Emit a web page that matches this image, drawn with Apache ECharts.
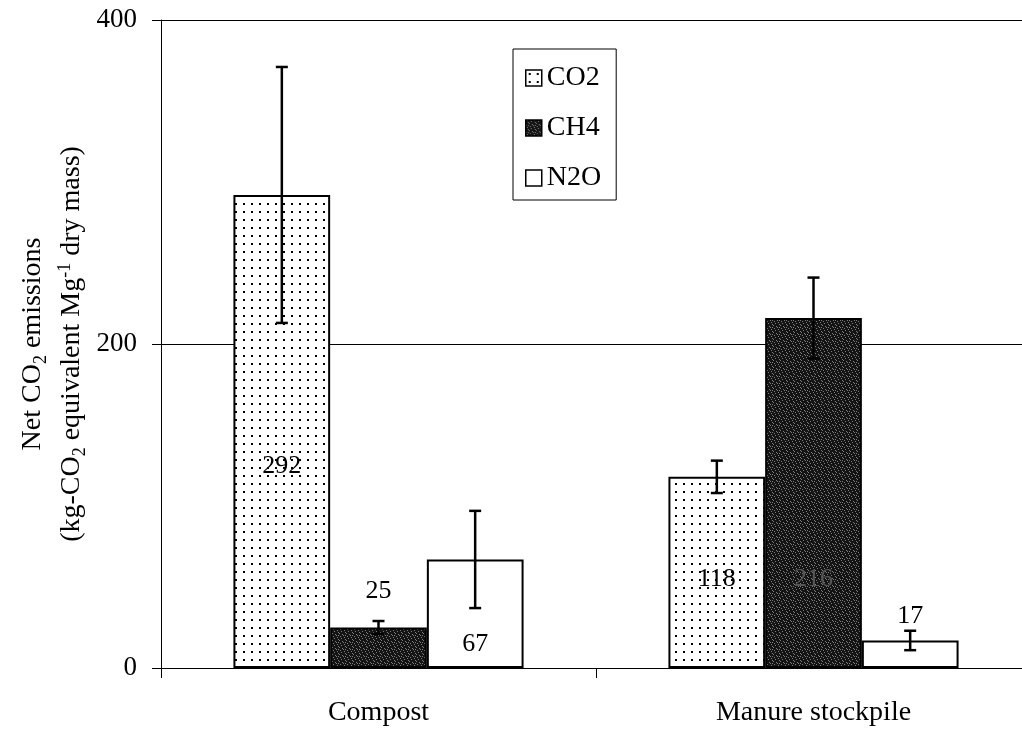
<!DOCTYPE html>
<html>
<head>
<meta charset="utf-8">
<script src="https://cdn.jsdelivr.net/npm/echarts@6/dist/echarts.min.js"></script>
<style>
html,body{margin:0;padding:0;background:#fff;}
#chart{width:1022px;height:731px;}
</style>
</head>
<body>
<div id="chart"></div>
<script>
// ---- data ----
const categories = ['Compost', 'Manure stockpile'];
const seriesNames = ['CO2', 'CH4', 'N2O'];
const co2 = [292, 118];
const ch4 = [25, 216];
const n2o = [67, 17];
const co2Err = [79, 10];
const ch4Err = [4, 25];
const n2oErr = [30, 6];
const yTicks = [0, 200, 400];
const yTitle1 = '{a|Net CO}{sub|2}{a| emissions}';
const yTitle2 = '{a|(kg-CO}{sub|2}{a| equivalent Mg}{sup|-1}{a| dry mass)}';

// ---- styling helpers ----
const FONT = '"Liberation Serif", "Times New Roman", serif';

function dotPattern() {
  const c = document.createElement('canvas');
  c.width = 8; c.height = 8;
  const g = c.getContext('2d');
  g.fillStyle = '#fff'; g.fillRect(0, 0, 8, 8);
  g.fillStyle = '#000'; g.fillRect(3, 3, 2, 2);
  return { image: c, repeat: 'repeat' };
}
function darkPattern() {
  const c = document.createElement('canvas');
  c.width = 7; c.height = 7;
  const g = c.getContext('2d');
  g.fillStyle = '#141414'; g.fillRect(0, 0, 7, 7);
  g.fillStyle = '#7c7c7c';
  [[1,0],[5,1],[2,2],[3,3],[6,4],[0,5],[4,6],[2,5]].forEach(p => g.fillRect(p[0], p[1], 1, 1));
  return { image: c, repeat: 'repeat' };
}

const fills = [dotPattern(), darkPattern(), '#ffffff'];
const values = [co2, ch4, n2o];
const errors = [co2Err, ch4Err, n2oErr];

// label placement per bar (style only)
const labelPlacement = [
  [{ position: 'insideBottom', distance: 189 }, { position: 'insideBottom', distance: 76 }],
  [{ position: 'top', distance: 23 }, { position: 'insideBottom', distance: 76, color: '#555' }],
  [{ position: 'insideBottom', distance: 11 }, { position: 'top', distance: 11 }]
];

const CAT_GAP = 1 / 3;

const barSeries = seriesNames.map((name, k) => ({
  name: name,
  type: 'bar',
  barGap: '0%',
  barCategoryGap: '33.3%',
  itemStyle: { color: fills[k], borderColor: '#000', borderWidth: 2 },
  label: { show: true, fontFamily: FONT, fontSize: 26, color: '#000' },
  data: values[k].map((v, i) => ({ value: v, label: labelPlacement[k][i] })),
  z: 2
}));

const errSeries = seriesNames.map((name, k) => ({
  name: 'err-' + name,
  type: 'custom',
  z: 5,
  silent: true,
  data: values[k].map((v, i) => [i, v, errors[k][i]]),
  renderItem: function (params, api) {
    const ci = api.value(0), v = api.value(1), e = api.value(2);
    const c = api.coord([ci, v]);
    const band = api.size([1, 0])[0];
    const barW = band * (1 - CAT_GAP) / 3;
    const x = c[0] + (k - 1) * barW;
    const yt = api.coord([ci, v + e])[1];
    const yb = api.coord([ci, v - e])[1];
    const cap = 6;
    const st = { stroke: '#000', lineWidth: 2.5 };
    return {
      type: 'group',
      children: [
        { type: 'line', shape: { x1: x, y1: yt, x2: x, y2: yb }, style: st },
        { type: 'line', shape: { x1: x - cap, y1: yt, x2: x + cap, y2: yt }, style: st },
        { type: 'line', shape: { x1: x - cap, y1: yb, x2: x + cap, y2: yb }, style: st }
      ]
    };
  }
}));

const titleRich = {
  a: { fontFamily: FONT, fontSize: 28, color: '#000', lineHeight: 38, verticalAlign: 'middle' },
  sub: { fontFamily: FONT, fontSize: 18, color: '#000', lineHeight: 38, verticalAlign: 'bottom', padding: [0, 0, 2, 0] },
  sup: { fontFamily: FONT, fontSize: 18, color: '#000', lineHeight: 38, verticalAlign: 'top', padding: [3, 0, 0, 0] }
};

const chart = echarts.init(document.getElementById('chart'), null, { renderer: 'canvas' });
chart.setOption({
  animation: false,
  backgroundColor: '#fff',
  textStyle: { fontFamily: FONT },
  grid: { left: 161, top: 20, width: 870, height: 648, containLabel: false, outerBoundsMode: 'none' },
  graphic: [
    { type: 'text', x: 33, y: 344, rotation: Math.PI / 2,
      style: { text: yTitle1, rich: titleRich, align: 'center', verticalAlign: 'middle' } },
    { type: 'text', x: 72, y: 344, rotation: Math.PI / 2,
      style: { text: yTitle2, rich: titleRich, align: 'center', verticalAlign: 'middle' } }
  ],
  legend: {
    data: seriesNames,
    orient: 'vertical',
    left: 513,
    top: 49,
    borderColor: '#000',
    borderWidth: 1,
    padding: [15, 15, 8, 12],
    itemWidth: 16,
    itemHeight: 16,
    itemGap: 22,
    icon: 'rect',
    itemStyle: { borderColor: '#000', borderWidth: 1.5 },
    textStyle: { fontFamily: FONT, fontSize: 28, color: '#000', lineHeight: 28, padding: [0, 0, 0, 0] }
  },
  xAxis: {
    type: 'category',
    data: categories,
    axisLine: { lineStyle: { color: '#000', width: 1 } },
    axisTick: { show: true, length: 10, alignWithLabel: false, interval: 0, lineStyle: { color: '#000' } },
    axisLabel: { fontFamily: FONT, fontSize: 28, color: '#000', margin: 31 },
    splitLine: { show: false }
  },
  yAxis: {
    type: 'value',
    min: yTicks[0],
    max: yTicks[yTicks.length - 1],
    interval: yTicks[1] - yTicks[0],
    axisLine: { show: true, lineStyle: { color: '#000', width: 1 } },
    axisTick: { show: true, length: 9, inside: false, lineStyle: { color: '#000' } },
    axisLabel: { fontFamily: FONT, fontSize: 27, color: '#000', margin: 24 },
    splitLine: { show: true, lineStyle: { color: '#000', width: 1 } }
  },
  series: barSeries.concat(errSeries)
});
</script>
</body>
</html>
